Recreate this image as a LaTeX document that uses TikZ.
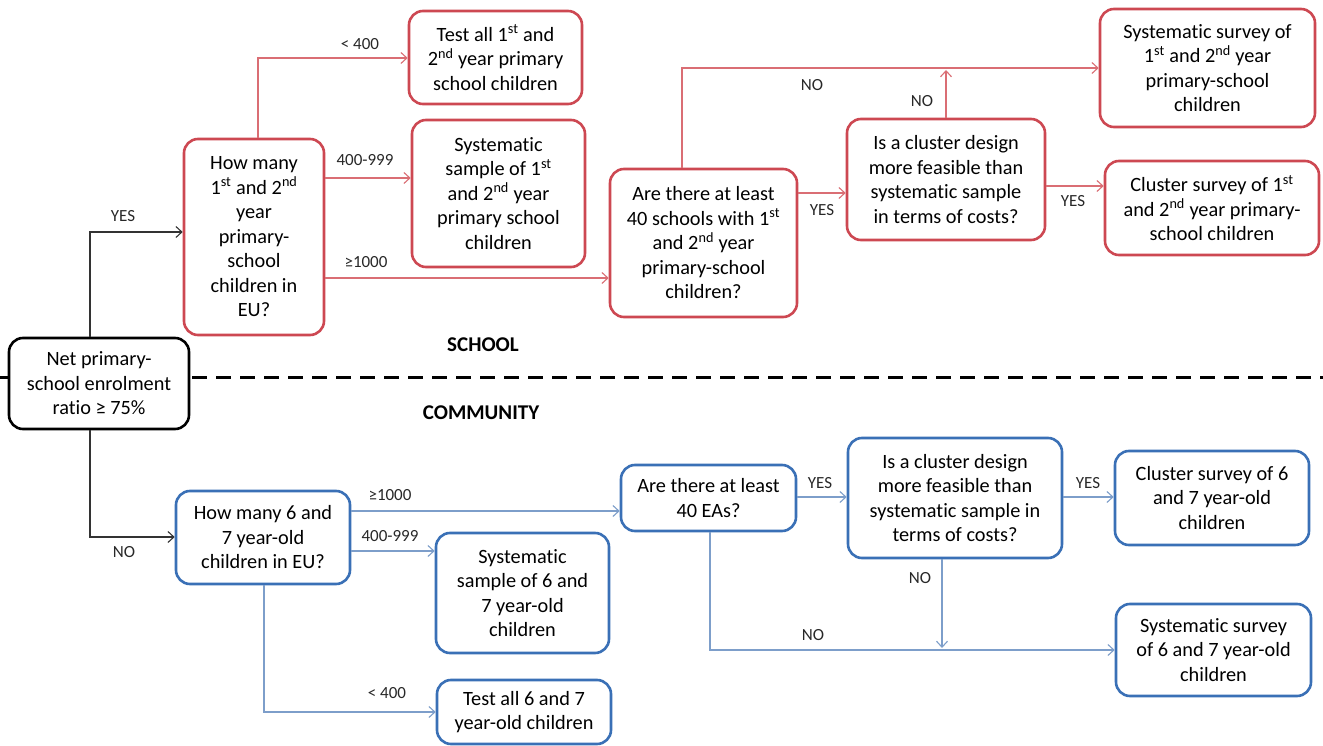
\documentclass[tikz,border=0pt]{standalone}
\usepackage{fontspec}
\setmainfont{Carlito}[Ligatures={NoCommon}]
\usetikzlibrary{arrows.meta}
\definecolor{rbox}{RGB}{205,72,82}
\definecolor{rarr}{RGB}{218,110,116}
\definecolor{bbox}{RGB}{58,112,182}
\definecolor{barr}{RGB}{125,158,202}
\definecolor{lbl}{RGB}{40,40,40}
\newcommand\mainfs{\fontsize{20.3}{24.5}\selectfont}
\newcommand\lblfs{\fontsize{17}{19}\selectfont}
\newcommand\st[1]{\textsuperscript{#1}}
\tikzset{
  box/.style={draw, fill=white, rounded corners=14pt, line width=2.6pt, align=center, inner sep=0pt, font=\mainfs},
  redbox/.style={box, draw=rbox},
  bluebox/.style={box, draw=bbox},
  blackbox/.style={box, draw=black},
  conn/.style={line width=1.1pt, -{Straight Barb[length=6pt,width=11pt,line width=1.1pt]}},
  ra/.style={conn, draw=rarr},
  ba/.style={conn, draw=barr},
  ka/.style={conn, draw=black!80},
  lab/.style={font=\lblfs, text=lbl, inner sep=1pt},
  sec/.style={font=\fontsize{21}{23}\selectfont\bfseries, text=black}
}
\begin{document}
\begin{tikzpicture}[x=1pt,y=-1pt]
\useasboundingbox (0,0) rectangle (1323,746);
\fill[white] (0,0) rectangle (1323,746);
% dashed separator
\draw[line width=3pt, dash pattern=on 15pt off 9pt] (0,377) -- (1323,377);
\node[sec] (school) at (483,345) {SCHOOL};
\node[sec] (community) at (481,413) {COMMUNITY};

% root
\node[blackbox, minimum width=180pt, minimum height=91pt] (n0) at (99,383.5) {Net primary-\\school enrolment\\ratio ≥ 75\%};

% school part
\node[redbox, minimum width=140pt, minimum height=196pt] (q1) at (254,237) {How many\\1\st{st} and 2\st{nd}\\year\\primary-\\school\\children in\\EU?};
\node[redbox, minimum width=173pt, minimum height=93pt] (t1) at (495.5,57.5) {Test all 1\st{st} and\\2\st{nd} year primary\\school children};
\node[redbox, minimum width=173pt, minimum height=147pt] (s1) at (498.5,193.5) {Systematic\\sample of 1\st{st}\\and 2\st{nd} year\\primary school\\children};
\node[redbox, minimum width=187pt, minimum height=148pt] (q2) at (703.5,243) {Are there at least\\40 schools with 1\st{st}\\and 2\st{nd} year\\primary-school\\children?};
\node[redbox, minimum width=198pt, minimum height=121pt] (q3) at (946,179.5) {Is a cluster design\\more feasible than\\systematic sample\\in terms of costs?};
\node[redbox, minimum width=215pt, minimum height=118pt] (r1) at (1207.5,68) {Systematic survey of\\1\st{st} and 2\st{nd} year\\primary-school\\children};
\node[redbox, minimum width=214pt, minimum height=94pt] (r2) at (1212,208) {Cluster survey of 1\st{st}\\and 2\st{nd} year primary-\\school children};

% community part
\node[bluebox, minimum width=174pt, minimum height=93pt] (q4) at (263,537.5) {How many 6 and\\7 year-old\\children in EU?};
\node[bluebox, minimum width=173pt, minimum height=120pt] (s2) at (522.5,593) {Systematic\\sample of 6 and\\7 year-old\\children};
\node[bluebox, minimum width=174pt, minimum height=64pt] (t2) at (524,712) {Test all 6 and 7\\year-old children};
\node[bluebox, minimum width=175pt, minimum height=66pt] (q5) at (708.5,498) {Are there at least\\40 EAs?};
\node[bluebox, minimum width=214pt, minimum height=120pt] (q6) at (955,498) {Is a cluster design\\more feasible than\\systematic sample in\\terms of costs?};
\node[bluebox, minimum width=194pt, minimum height=94pt] (r3) at (1212,498) {Cluster survey of 6\\and 7 year-old\\children};
\node[bluebox, minimum width=195pt, minimum height=92pt] (r4) at (1213.5,650) {Systematic survey\\of 6 and 7 year-old\\children};

% helper coordinates
\coordinate (k1) at (90,232);
\coordinate (k2) at (90,537);
\coordinate (a1) at (258,58);
\coordinate (a2) at (0,178);
\coordinate (a3) at (0,278);
\coordinate (a4) at (682,68);
\coordinate (a5) at (946,70);
\coordinate (a6) at (0,193);
\coordinate (a7) at (0,186);
\coordinate (b1) at (0,511);
\coordinate (b2) at (0,551);
\coordinate (b3) at (264,712);
\coordinate (b4) at (0,497);
\coordinate (b5) at (942,648);
\coordinate (b6) at (710,650);

% black connectors
\draw[ka] (n0.north -| k1) |- (q1.west |- k1);
\draw[ka] (n0.south -| k2) |- (q4.west |- k2);
\node[lab] (lyes0) at (123,216) {YES};
\node[lab] (lno0) at (124,552) {NO};

% red connectors
\draw[ra] (q1.north -| a1) |- (t1.west |- a1);
\draw[ra] (q1.east |- a2) -- (s1.west |- a2);
\draw[ra] (q1.east |- a3) -- (q2.west |- a3);
\draw[ra] (q2.north -| a4) |- (r1.west |- a4);
\draw[ra] (q3.north -| a5) -- (a5);
\draw[ra] (q2.east |- a6) -- (q3.west |- a6);
\draw[ra] (q3.east |- a7) -- (r2.west |- a7);
\node[lab] (l1) at (360,44) {< 400};
\node[lab] (l2) at (365,160) {400-999};
\node[lab] (l3) at (366,262) {≥1000};
\node[lab] (l4) at (812,85) {NO};
\node[lab] (l5) at (922,101) {NO};
\node[lab] (l6) at (822,210) {YES};
\node[lab] (l7) at (1073,201) {YES};

% blue connectors
\draw[ba] (q4.east |- b1) -- (q5.west |- b1);
\draw[ba] (q4.east |- b2) -- (s2.west |- b2);
\draw[ba] (q4.south -| b3) |- (t2.west |- b3);
\draw[ba] (q5.east |- b4) -- (q6.west |- b4);
\draw[ba] (q6.east |- b4) -- (r3.west |- b4);
\draw[ba] (q6.south -| b5) -- (b5);
\draw[ba] (q5.south -| b6) |- (r4.west |- b6);
\node[lab] (m1) at (390,495) {≥1000};
\node[lab] (m2) at (390,536) {400-999};
\node[lab] (m3) at (387,693) {< 400};
\node[lab] (m4) at (820,483) {YES};
\node[lab] (m5) at (1088,483) {YES};
\node[lab] (m6) at (920,578) {NO};
\node[lab] (m7) at (813,635) {NO};
\end{tikzpicture}
\end{document}
